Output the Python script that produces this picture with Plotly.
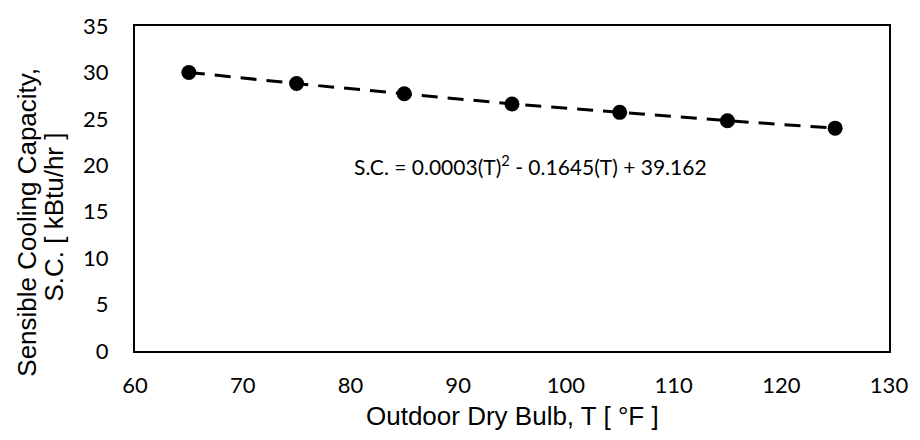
import plotly.graph_objects as go

# Data
temps_F = [65, 75, 85, 95, 105, 115, 125]
sensible_capacity = [30.0, 28.8, 27.7, 26.6, 25.7, 24.8, 24.0]

x_ticks = [60, 70, 80, 90, 100, 110, 120, 130]
y_ticks = [0, 5, 10, 15, 20, 25, 30, 35]

equation_text = "S.C. = 0.0003(T)<sup>2</sup> - 0.1645(T) + 39.162"
x_title = "Outdoor Dry Bulb, T [ °F ]"
y_title_lines = ["Sensible Cooling Capacity,", "S.C. [ kBtu/hr ]"]

fig = go.Figure()
fig.add_trace(go.Scatter(
    x=temps_F, y=sensible_capacity,
    mode="lines+markers",
    line=dict(color="black", width=3, dash="16px,10px"),
    marker=dict(color="black", size=15),
    showlegend=False,
))

tick_font = dict(family="Lato, Open Sans, sans-serif", size=22, color="black")
title_font = dict(family="Liberation Sans, Arial, sans-serif", size=26, color="black")

axis_common = dict(
    showgrid=False, zeroline=False,
    showline=True, linecolor="black", linewidth=2, mirror=True,
    ticks="",
    tickfont=tick_font,
)

fig.update_xaxes(range=[60, 130], tickvals=x_ticks, ticklabelstandoff=14, **axis_common)
fig.update_yaxes(range=[0, 35], tickvals=y_ticks, ticklabelstandoff=20, **axis_common)

fig.add_annotation(
    x=96.7, y=20.0, xref="x", yref="y",
    text=equation_text, showarrow=False,
    font=dict(family="Lato, Open Sans, sans-serif", size=21, color="black"),
)
fig.add_annotation(
    x=0.5, y=-0.2, xref="paper", yref="paper",
    text=x_title, showarrow=False, font=title_font,
    xanchor="center", yanchor="middle",
)
# y-axis title, two lines placed individually
fig.add_annotation(
    x=(25 - 135) / 762, y=(351 - 219) / 334, xref="paper", yref="paper",
    text=y_title_lines[0], showarrow=False, textangle=-90, font=title_font,
    xanchor="center", yanchor="middle",
)
fig.add_annotation(
    x=(53 - 135) / 762, y=(351 - 213) / 334, xref="paper", yref="paper",
    text=y_title_lines[1], showarrow=False, textangle=-90, font=title_font,
    xanchor="center", yanchor="middle",
)

fig.update_layout(
    width=920, height=440,
    margin=dict(l=135, r=23, t=17, b=89),
    plot_bgcolor="white", paper_bgcolor="white",
)

fig.write_html("out.html")
